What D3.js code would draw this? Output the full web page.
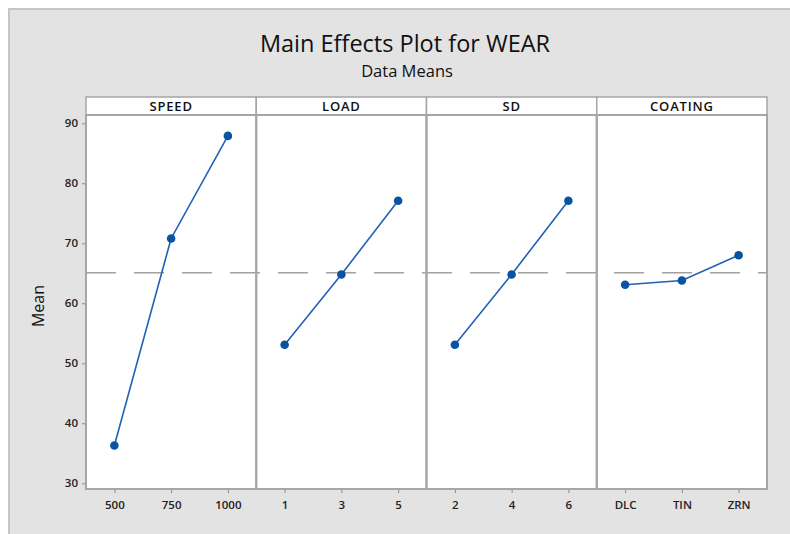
<!DOCTYPE html>
<html><head><meta charset="utf-8">
<script src="https://cdn.jsdelivr.net/npm/d3@7"></script>
<style>
html,body{margin:0;padding:0;background:#fff;}
svg{display:block;font-family:"Open Sans","Noto Sans",sans-serif;}
</style></head>
<body><svg id="c" width="790" height="534"></svg>
<script>
// ---- data ----
const factors = ["SPEED", "LOAD", "SD", "COATING"];
const speedLevels = ["500", "750", "1000"];
const speedMeans = [36.3, 70.8, 87.9];
const loadLevels = ["1", "3", "5"];
const loadMeans = [53.1, 64.8, 77.1];
const sdLevels = ["2", "4", "6"];
const sdMeans = [53.1, 64.8, 77.1];
const coatingLevels = ["DLC", "TIN", "ZRN"];
const coatingMeans = [63.1, 63.8, 68.0];
const overallMean = 65.1;
const yTicks = [30, 40, 50, 60, 70, 80, 90];
const title = "Main Effects Plot for WEAR";
const subtitle = "Data Means";
const yLabel = "Mean";

const levelsList = [speedLevels, loadLevels, sdLevels, coatingLevels];
const meansList = [speedMeans, loadMeans, sdMeans, coatingMeans];

// ---- layout ----
const W = 790, H = 534;
const plotL = 86, plotR = 767, stripTop = 97, plotTop = 115, plotBot = 489;
const svg = d3.select("#c");

svg.append("rect").attr("x", 8).attr("y", 8).attr("width", W - 8).attr("height", H - 8)
  .attr("fill", "#e3e3e3");
svg.append("path").attr("d", `M9,${H}V9H${W}`).attr("fill", "none")
  .attr("stroke", "#c6c6c6").attr("stroke-width", 2);

svg.append("text").attr("x", 405).attr("y", 52).attr("text-anchor", "middle")
  .attr("font-size", 23.5).attr("fill", "#111").text(title);
svg.append("text").attr("x", 407).attr("y", 77).attr("text-anchor", "middle")
  .attr("font-size", 16.5).attr("fill", "#111").text(subtitle);

const y = d3.scaleLinear().domain([29.05, 91.38]).range([plotBot, plotTop]);
const panel = d3.scaleBand().domain(factors).range([plotL, plotR]);

// white panel background
svg.append("rect").attr("x", plotL).attr("y", stripTop).attr("width", plotR - plotL)
  .attr("height", plotBot - stripTop).attr("fill", "#fff");

// y axis
const yAxis = svg.append("g").attr("transform", `translate(${plotL - 1},0)`)
  .call(d3.axisLeft(y).tickValues(yTicks).tickSize(3).tickPadding(4));
yAxis.select(".domain").remove();
yAxis.selectAll("line").attr("stroke", "#888");
yAxis.selectAll("text").attr("font-size", 11.5).attr("font-weight", 600).attr("fill", "#222")
  .attr("font-family", "'Open Sans',sans-serif");

svg.append("text").attr("transform", `translate(44,${(plotTop + plotBot) / 2 + 4}) rotate(-90)`)
  .attr("text-anchor", "middle").attr("font-size", 16).attr("fill", "#111").text(yLabel);

// reference line
svg.append("line").attr("x1", plotL).attr("x2", plotR)
  .attr("y1", y(overallMean)).attr("y2", y(overallMean))
  .attr("stroke", "#a0a0a0").attr("stroke-width", 1.6).attr("stroke-dasharray", "30,18");

factors.forEach((f, i) => {
  const x0 = panel(f), bw = panel.bandwidth();
  const x = d3.scalePoint().domain(levelsList[i]).range([x0, x0 + bw]).padding(0.5);
  // strip
  svg.append("rect").attr("x", x0).attr("y", stripTop).attr("width", bw)
    .attr("height", plotTop - stripTop).attr("fill", "#fff")
    .attr("stroke", "#a6a6a6").attr("stroke-width", 1.5);
  svg.append("text").attr("x", x0 + bw / 2).attr("y", plotTop - 4)
    .attr("text-anchor", "middle").attr("font-size", 13).attr("font-weight", 600)
    .attr("letter-spacing", 0.8).attr("fill", "#111").text(f);
  // panel frame
  svg.append("rect").attr("x", x0).attr("y", plotTop).attr("width", bw)
    .attr("height", plotBot - plotTop).attr("fill", "none")
    .attr("stroke", "#a6a6a6").attr("stroke-width", 2);
  // x axis
  const xa = svg.append("g").attr("transform", `translate(0,${plotBot + 1})`)
    .call(d3.axisBottom(x).tickSize(3).tickPadding(8));
  xa.select(".domain").remove();
  xa.selectAll("line").attr("stroke", "#888");
  xa.selectAll("text").attr("font-size", 11.5).attr("font-weight", 600).attr("fill", "#222")
    .attr("font-family", "'Open Sans',sans-serif");
  // line + points
  const pts = levelsList[i].map((l, j) => [x(l), y(meansList[i][j])]);
  svg.append("path").attr("d", d3.line()(pts)).attr("fill", "none")
    .attr("stroke", "#1f62b5").attr("stroke-width", 1.6);
  svg.selectAll(null).data(pts).enter().append("circle")
    .attr("cx", d => d[0]).attr("cy", d => d[1]).attr("r", 4.3).attr("fill", "#0a53a3");
});
</script></body></html>
